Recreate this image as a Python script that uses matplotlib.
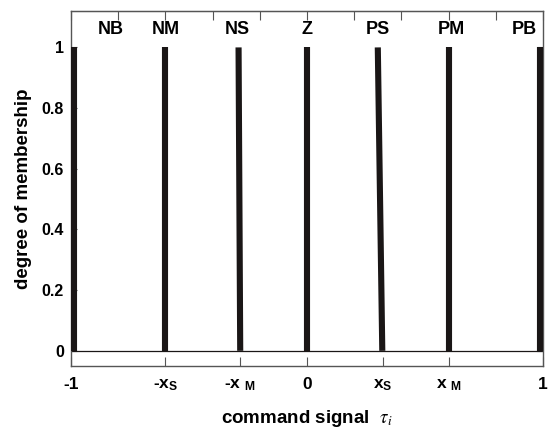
import matplotlib
matplotlib.use('Agg')
import matplotlib.pyplot as plt
import numpy as np

# Data
labels = ['NB', 'NM', 'NS', 'Z', 'PS', 'PM', 'PB']
x_bottom = [-0.987, -0.600, -0.283, 0.000, 0.319, 0.602, 0.987]
x_top = [-0.987, -0.600, -0.290, 0.000, 0.300, 0.602, 0.987]
mu_bottom = [0, 0, 0, 0, 0, 0, 0]
mu_top = [1, 1, 1, 1, 1, 1, 1]
label_x = [-0.83, -0.60, -0.297, 0.0, 0.30, 0.613, 0.92]
xtick_pos = [-1, -0.600, -0.283, 0, 0.321, 0.602, 1]
xtick_labels = ['-1', r'-x$\mathregular{_S}$', r'-x $\mathregular{_M}$', '0',
                r'x$\mathregular{_S}$', r'x $\mathregular{_M}$', '1']
top_ticks = [-1, -0.8, -0.6, -0.4, -0.2, 0, 0.2, 0.4, 0.6, 0.8, 1]
yticks = [0, 0.2, 0.4, 0.6, 0.8, 1]
ytick_labels = ['0', '0.2', '0.4', '0.6', '0.8', '1']

plt.rcParams['font.family'] = ['Liberation Sans', 'DejaVu Sans']
plt.rcParams['mathtext.fontset'] = 'stix'

fig = plt.figure(figsize=(5.49, 4.30), dpi=100)
ax = fig.add_axes([71/549, 64/430, 472/549, 355/430])

line_col = '#1a1616'
ax.plot([-1, 1], [0, 0], color=line_col, lw=0.9, zorder=2)
for xb, xt, yb, yt in zip(x_bottom, x_top, mu_bottom, mu_top):
    ax.plot([xb, xt], [yb, yt], color=line_col, lw=4.4, solid_capstyle='butt', zorder=3)

for lab, lx in zip(labels, label_x):
    ax.text(lx, 1.058, lab, ha='center', va='center', fontsize=13, fontweight='bold')

ax.set_xlim(-1, 1)
ax.set_ylim(-0.05, 1.12)

ax.set_xticks(xtick_pos)
ax.set_xticklabels(xtick_labels, fontsize=12.5, fontweight='bold')
ax.set_yticks(yticks)
ax.set_yticklabels(ytick_labels, fontsize=11.5, fontweight='bold')
ax.tick_params(axis='x', direction='in', length=6.5, width=0.8, color='#555555', pad=8)
ax.tick_params(axis='y', direction='in', length=4, width=0.8, color='#555555', pad=5, right=True)

secax = ax.secondary_xaxis('top')
secax.set_xticks(top_ticks)
secax.tick_params(direction='in', length=6.5, width=0.8, color='#555555', labeltop=False)
secax.spines['top'].set_color('#555555')

for sp in ax.spines.values():
    sp.set_color('#555555')
    sp.set_linewidth(1.0)

ax.set_xlabel(r'command signal  $\tau_i$', fontsize=13.5, fontweight='bold', labelpad=11)
ax.set_ylabel('degree of membership', fontsize=13.5, fontweight='bold', labelpad=7)

fig.savefig('out.png', dpi=100)
